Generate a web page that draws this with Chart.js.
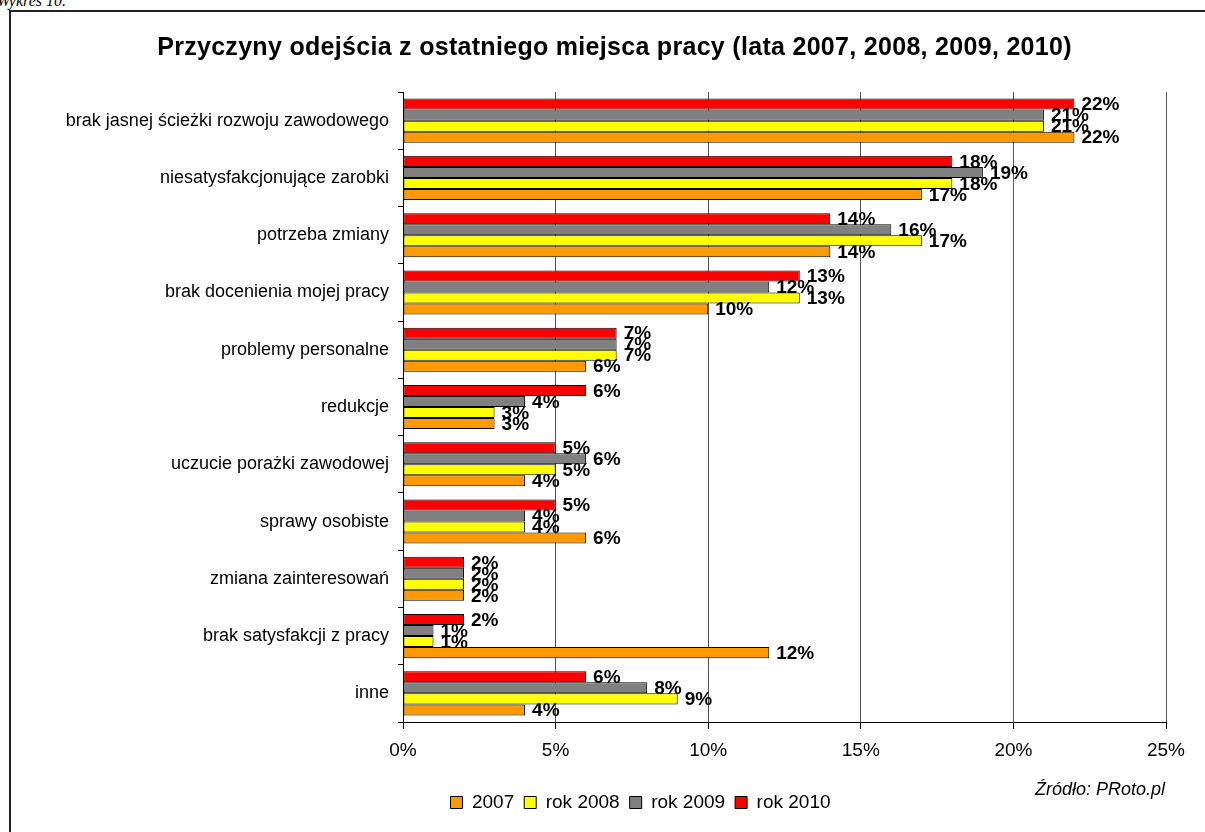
<!DOCTYPE html>
<html lang="pl">
<head>
<meta charset="utf-8">
<title>Przyczyny odejścia z ostatniego miejsca pracy</title>
<script src="https://cdn.jsdelivr.net/npm/chart.js@4.4.1/dist/chart.umd.min.js"></script>
<style>
  html, body { margin: 0; padding: 0; background: #fff; overflow: hidden; }
  body { width: 1205px; height: 832px; position: relative; }
  #caption { position: absolute; left: -3px; top: -8px; line-height: 1; color: #000; font: italic 16px "Liberation Serif", "Times New Roman", serif; white-space: nowrap; }
  #frame { position: absolute; left: 9px; top: 10px; width: 1260px; height: 900px; border-left: 2px solid #222; border-top: 2px solid #222; }
  #chartBox { position: absolute; left: 11px; top: 12px; width: 1194px; height: 820px; }
  #chartTitle { position: absolute; left: 0; top: 32px; width: 1229px; text-align: center; line-height: 30px; letter-spacing: 0.3px; color: #000; font: bold 25px Arial, "Liberation Sans", sans-serif; white-space: nowrap; }
  #source { position: absolute; right: 40px; top: 779px; color: #000; font: italic 18px Arial, "Liberation Sans", sans-serif; white-space: nowrap; }
</style>
</head>
<body>
<div id="caption">Wykres 10.</div>
<div id="frame"></div>
<div id="chartBox"><canvas id="reasonsChart" width="1194" height="820"></canvas></div>
<div id="chartTitle">Przyczyny odejścia z ostatniego miejsca pracy (lata 2007, 2008, 2009, 2010)</div>
<div id="source">Źródło: PRoto.pl</div>
<script>
const categories = [
  'brak jasnej ścieżki rozwoju zawodowego',
  'niesatysfakcjonujące zarobki',
  'potrzeba zmiany',
  'brak docenienia mojej pracy',
  'problemy personalne',
  'redukcje',
  'uczucie porażki zawodowej',
  'sprawy osobiste',
  'zmiana zainteresowań',
  'brak satysfakcji z pracy',
  'inne'
];
const seriesNames = ['2007', 'rok 2008', 'rok 2009', 'rok 2010'];
const values2007 = [22, 17, 14, 10, 6, 3, 4, 6, 2, 12, 4];
const values2008 = [21, 18, 17, 13, 7, 3, 5, 4, 2, 1, 9];
const values2009 = [21, 19, 16, 12, 7, 4, 6, 4, 2, 1, 8];
const values2010 = [22, 18, 14, 13, 7, 6, 5, 5, 2, 2, 6];
const xTickValues = [0, 5, 10, 15, 20, 25];

const FONT = 'Arial, "Liberation Sans", sans-serif';

// percentages printed just past the end of each bar
const valueLabels = {
  id: 'valueLabels',
  afterDatasetsDraw(chart) {
    const ctx = chart.ctx;
    ctx.save();
    ctx.font = 'bold 19px ' + FONT;
    ctx.fillStyle = '#000';
    ctx.textAlign = 'left';
    ctx.textBaseline = 'middle';
    chart.data.datasets.forEach((ds, i) => {
      chart.getDatasetMeta(i).data.forEach((bar, j) => {
        ctx.fillText(ds.data[j] + '%', bar.x + 7, bar.y + 1);
      });
    });
    ctx.restore();
  }
};

// the legend row sits a bit right of the canvas centre
const legendShift = {
  id: 'legendShift',
  afterLayout(chart) {
    const lg = chart.legend;
    if (lg) {
      lg.left += 52;
      lg.right += 52;
    }
  }
};

function series(label, data, color) {
  return {
    label: label,
    data: data,
    backgroundColor: color,
    borderColor: '#000',
    borderWidth: 1,
    borderSkipped: false,
    categoryPercentage: 0.77,
    barPercentage: 1
  };
}

const ctx = document.getElementById('reasonsChart').getContext('2d');
new Chart(ctx, {
  type: 'bar',
  data: {
    labels: categories,
    // 2010 sits on top inside each group, 2007 at the bottom
    datasets: [
      series(seriesNames[3], values2010, '#FF0000'),
      series(seriesNames[2], values2009, '#808080'),
      series(seriesNames[1], values2008, '#FFFF00'),
      series(seriesNames[0], values2007, '#FF9900')
    ]
  },
  options: {
    indexAxis: 'y',
    responsive: false,
    animation: false,
    devicePixelRatio: 1,
    layout: { padding: { left: 0, right: 39, top: 80, bottom: 10 } },
    scales: {
      x: {
        min: 0,
        max: 25,
        afterBuildTicks(scale) {
          scale.ticks = xTickValues.map(v => ({ value: v }));
        },
        afterFit(scale) { scale.height = 61; },
        ticks: {
          callback: v => v + '%',
          color: '#000',
          font: { family: FONT, size: 19 },
          padding: 10,
          maxRotation: 0
        },
        grid: {
          color: c => (c.tick && c.tick.value === 0 ? '#000' : '#555'),
          tickColor: '#000',
          tickLength: 7,
          lineWidth: 1
        },
        border: { color: '#000', width: 1 }
      },
      y: {
        afterFit(scale) { scale.width = 392; },
        ticks: {
          color: '#000',
          font: { family: FONT, size: 18 },
          padding: 9,
          autoSkip: false
        },
        grid: {
          drawOnChartArea: false,
          offset: true,
          tickColor: '#000',
          tickLength: 5
        },
        border: { color: '#000', width: 1 }
      }
    },
    plugins: {
      title: { display: false },
      legend: {
        position: 'bottom',
        reverse: true,
        labels: {
          color: '#000',
          font: { family: FONT, size: 19 },
          boxWidth: 12,
          boxHeight: 12,
          padding: 10
        }
      },
      tooltip: { enabled: false }
    }
  },
  plugins: [valueLabels, legendShift]
});
</script>
</body>
</html>
